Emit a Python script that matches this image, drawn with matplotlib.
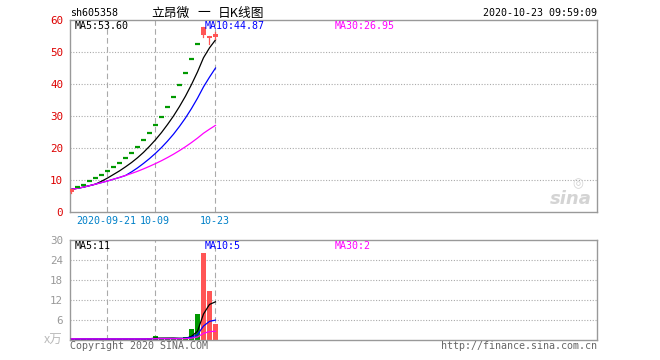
import matplotlib
matplotlib.use("Agg")
import matplotlib.pyplot as plt
from matplotlib.patches import Rectangle
import pandas as pd

# daily K-line data, 2020-09-11 .. 2020-10-23 (25 trading days)
opens = [6.3, 7.8, 8.6, 9.7, 10.7, 11.7, 12.8, 14.2, 15.3, 17.0, 18.4, 20.3, 22.6,
         24.8, 27.2, 29.7, 32.8, 35.9, 39.7, 43.4, 47.8, 52.5, 55.3, 54.4, 54.8]
closes = [7.2, 7.8, 8.6, 9.7, 10.7, 11.7, 12.8, 14.2, 15.3, 17.0, 18.4, 20.3, 22.6,
          24.8, 27.2, 29.7, 32.8, 35.9, 39.7, 43.4, 47.8, 52.5, 58.0, 55.2, 55.8]
highs = [7.3, 7.8, 8.6, 9.7, 10.7, 11.7, 12.8, 14.2, 15.3, 17.0, 18.4, 20.3, 22.6,
         24.8, 27.2, 29.7, 32.8, 35.9, 39.7, 43.4, 47.8, 52.5, 58.0, 55.2, 56.2]
lows = [6.0, 7.8, 8.6, 9.7, 10.7, 11.7, 12.8, 14.2, 15.3, 17.0, 18.4, 20.3, 22.6,
        24.8, 27.2, 29.7, 32.8, 35.9, 39.7, 43.4, 47.8, 52.5, 54.7, 52.5, 54.1]
# volume, x万
volumes = [0.2, 0.15, 0.15, 0.15, 0.15, 0.15, 0.15, 0.15, 0.15, 0.15, 0.15, 0.15, 0.15,
           0.55, 1.05, 0.2, 0.2, 0.2, 0.2, 0.85, 3.3, 7.8, 26.2, 14.7, 4.8]

date_idx = [6, 14, 24]
date_labels = ["2020-09-21", "10-09", "10-23"]

price_ticks = [0, 10, 20, 30, 40, 50, 60]
vol_ticks = [6, 12, 18, 24, 30]

RED = "#ff5555"
GREEN = "#009900"
GRID = "#aaaaaa"
BORDER = "#999999"
MONO = "DejaVu Sans Mono"
CJK = ["Noto Sans CJK SC", "DejaVu Sans"]
FS = 7.2

W, H = 660, 360


def box(l, t, r, b):
    return [l / W, 1 - b / H, (r - l) / W, (b - t) / H]


def ftext(x, y, s, **kw):
    kw.setdefault("family", MONO)
    kw.setdefault("fontsize", FS)
    kw.setdefault("va", "center")
    fig.text(x / W, 1 - y / H, s, **kw)


fig = plt.figure(figsize=(W / 100, H / 100), dpi=100)
ax = fig.add_axes(box(70, 20.3, 597, 212.3))
axv = fig.add_axes(box(70, 240, 597, 339.5))

n = len(closes)
xs = list(range(n))
xlim = (-0.25, 87.6)

for a in (ax, axv):
    a.set_xlim(*xlim)
    for s in a.spines.values():
        s.set_color(BORDER)
        s.set_linewidth(1.0)
    a.set_xticks([])
    for i in date_idx:
        a.axvline(i - 0.15, color=GRID, lw=0.8, dashes=(5, 3), zorder=0)

# main price panel
ax.set_ylim(0, 60)
ax.set_yticks(price_ticks)
ax.set_yticklabels([str(t) for t in price_ticks], family=MONO, fontsize=FS + 0.6, color="#dd0000")
ax.tick_params(axis="y", length=0, pad=5)
for t in price_ticks[1:-1]:
    ax.axhline(t, color=GRID, lw=0.8, ls=(0, (1, 1.5)), zorder=0)

bw = 0.7
for i in xs:
    o, c, h, l = opens[i], closes[i], highs[i], lows[i]
    if c == o:
        ax.plot([i - 0.38, i + 0.38], [c, c], color=GREEN, lw=1.6, solid_capstyle="butt", zorder=3)
        continue
    col = RED if c > o else GREEN
    ax.plot([i, i], [l, h], color=col, lw=0.9, zorder=3)
    ax.add_patch(Rectangle((i - bw / 2, min(o, c)), bw, abs(c - o), color=col, lw=0, zorder=4))

s = pd.Series(closes)
ax.plot(xs, s.rolling(5, min_periods=1).mean(), color="black", lw=0.9, zorder=2)
ax.plot(xs, s.rolling(10, min_periods=1).mean(), color="#0000ff", lw=0.9, zorder=2)
ax.plot(xs, s.rolling(30, min_periods=1).mean(), color="#ff00ff", lw=0.9, zorder=2)

# volume panel
axv.set_ylim(0, 30)
axv.set_yticks(vol_ticks)
axv.set_yticklabels([str(t) for t in vol_ticks], family=MONO, fontsize=FS + 0.6, color=BORDER)
axv.tick_params(axis="y", length=0, pad=5)
for t in vol_ticks[:-1]:
    axv.axhline(t, color=GRID, lw=0.8, ls=(0, (1, 1.5)), zorder=0)
vcols = [RED if closes[i] > opens[i] else GREEN for i in xs]
axv.bar(xs, volumes, width=0.78, color=vcols, lw=0, zorder=2)
v = pd.Series(volumes)
axv.plot(xs, v.rolling(5, min_periods=1).mean(), color="black", lw=0.9, zorder=3)
axv.plot(xs, v.rolling(10, min_periods=1).mean(), color="#0000ff", lw=0.9, zorder=3)
axv.plot(xs, v.rolling(30, min_periods=1).mean(), color="#ff00ff", lw=0.9, zorder=3)

# texts
ftext(70, 13, "sh605358", color="black")
ftext(170, 13, "立昂微", family=CJK, fontsize=9.2, ha="center")
ftext(204, 13, "一", family=CJK, fontsize=9.2, ha="center")
ftext(240.5, 13, "日K线图", family=CJK, fontsize=9.2, ha="center")
ftext(597, 13, "2020-10-23 09:59:09", ha="right")

ftext(74.7, 26.3, "MA5:53.60", color="black")
ftext(204.7, 26.3, "MA10:44.87", color="#0000ff")
ftext(334.7, 26.3, "MA30:26.95", color="#ff00ff")

ftext(74.7, 245.7, "MA5:11", color="black")
ftext(204.7, 245.7, "MA10:5", color="#0000ff")
ftext(334.7, 245.7, "MA30:2", color="#ff00ff")

for i, lab in zip(date_idx, date_labels):
    px = 70 + (i - 0.15 - xlim[0]) / (xlim[1] - xlim[0]) * 527
    ftext(px, 221.3, lab, color="#0080c8", ha="center")

ftext(63, 340, "x万", family=CJK, fontsize=9, color="#bbbbbb", ha="right", style="italic")
ftext(70, 346, "Copyright 2020 SINA.COM", color="#666666")
ftext(597, 346, "http://finance.sina.com.cn", color="#666666", ha="right")

# sina watermark
ftext(571, 199, "sina", family="DejaVu Sans", fontsize=13, weight="bold", style="italic",
      color="#d4d4d4", ha="center")
ftext(578, 184, "◎", family="DejaVu Sans", fontsize=9, color="#d4d4d4", ha="center")

fig.savefig("out.png", dpi=100)
